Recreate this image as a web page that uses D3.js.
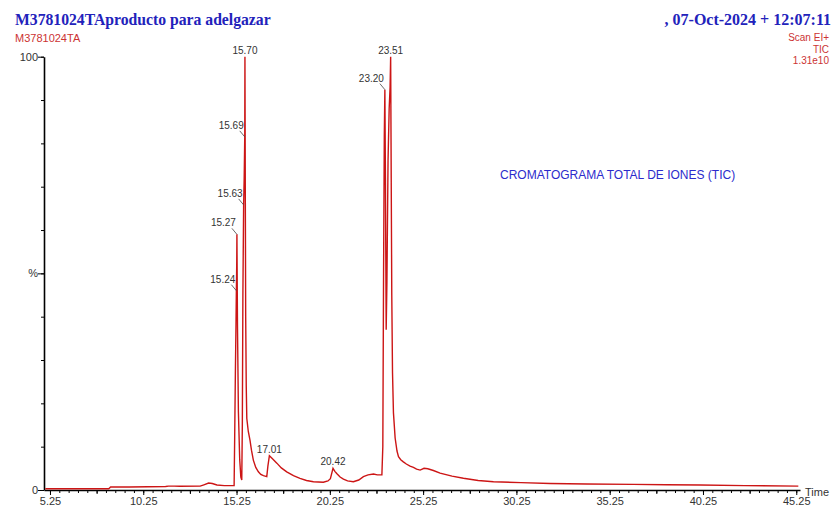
<!DOCTYPE html>
<html>
<meta charset="utf-8">
<script src="https://d3js.org/d3.v7.min.js"></script>
<style>
  body { margin: 0; background: #fff; }
  text { font-family: Arial, "Liberation Sans", sans-serif; }
</style>
<body>
<div id="chart"></div>
<script>

// retention time (min) and relative abundance (%)
var times = [5.00, 6.5, 8.40, 8.50, 9.5, 10.5, 11.45, 11.6, 11.9, 12.2, 13.3, 13.5, 13.75, 13.95, 14.2, 14.6, 15.08,
  15.12, 15.15, 15.19, 15.22, 15.24, 15.26, 15.27, 15.30, 15.35, 15.42, 15.48, 15.53, 15.56, 15.59, 15.63, 15.66,
  15.69, 15.70, 15.72, 15.74, 15.77, 15.80, 15.88, 15.97, 16.05, 16.15, 16.28, 16.42, 16.55, 16.69, 16.87, 16.93,
  17.01, 17.15, 17.41, 17.65, 17.94, 18.3, 18.65, 19.0, 19.37, 19.9, 20.15, 20.28, 20.42, 20.52, 20.62, 20.8, 20.98,
  21.2, 21.51, 21.8, 22.05, 22.3, 22.59, 22.8, 23.04, 23.09, 23.13, 23.17, 23.20, 23.23, 23.27, 23.31, 23.37, 23.43,
  23.48, 23.51, 23.54, 23.57, 23.61, 23.66, 23.75, 23.85, 23.93, 24.05, 24.19, 24.35, 24.55, 24.73, 24.90, 25.09,
  25.3, 25.5, 25.8, 26.16, 26.8, 27.41, 28.2, 29.02, 30.5, 32.06, 34.0, 36.51, 38.3, 40.10, 42.5, 45.36];
var intensity = [0.3, 0.3, 0.3, 0.7, 0.7, 0.75, 0.8, 0.9, 0.9, 0.85, 0.9, 1.2, 1.6, 1.5, 1.15, 1.0, 1.0,
  1.0, 12, 28, 38, 46, 52, 59, 38, 18, 7, 3, 2.3, 15, 45, 65.8, 72,
  81.5, 100, 68, 40, 24, 16.5, 13.5, 11.5, 9.2, 6.9, 5.2, 4.2, 3.6, 3.3, 3.1, 5.5,
  7.9, 7.3, 6.2, 5.1, 4.2, 3.3, 2.7, 2.2, 1.9, 1.8, 2.1, 2.6, 5.0, 4.3, 3.8, 3.0, 2.5,
  2.1, 1.9, 2.3, 3.1, 3.5, 3.7, 3.5, 3.5, 10, 50, 82, 92.4, 72, 37, 48, 76, 88,
  93, 100, 72, 45, 27, 17.8, 12, 9, 7.7, 7.0, 6.5, 6.0, 5.5, 5.2, 4.8, 4.6,
  5.0, 4.9, 4.5, 3.9, 3.2, 2.7, 2.2, 1.9, 1.7, 1.5, 1.4, 1.3, 1.2, 1.15, 1.0, 0.9];

var peakTimes = [15.24, 15.27, 15.63, 15.69, 15.70, 17.01, 20.42, 23.20, 23.51];
var xTickLabels = [5.25, 10.25, 15.25, 20.25, 25.25, 30.25, 35.25, 40.25, 45.25];
var infoLines = ["Scan EI+", "TIC", "1.31e10"];

var width = 834, height = 511;

var svg = d3.select("#chart")
  .append("svg")
    .attr("width", width)
    .attr("height", height);

var x = d3.scaleLinear().domain([4.93, 45.45]).range([44, 800]);
var y = d3.scaleLinear().domain([0, 100]).range([490, 56.7]);

// header
svg.append("text")
  .attr("x", 15).attr("y", 25)
  .style("font-family", "'Times New Roman', 'Liberation Serif', serif")
  .style("font-weight", "bold").style("font-size", "15.7px")
  .attr("fill", "#2222bb")
  .text("M3781024TAproducto para adelgazar");
svg.append("text")
  .attr("x", 831).attr("y", 25).attr("text-anchor", "end")
  .style("font-family", "'Times New Roman', 'Liberation Serif', serif")
  .style("font-weight", "bold").style("font-size", "16px")
  .attr("fill", "#2222bb")
  .text(",  07-Oct-2024 + 12:07:11");
svg.append("text")
  .attr("x", 15).attr("y", 42)
  .style("font-size", "11px").attr("fill", "#cc3333")
  .text("M3781024TA");
infoLines.forEach(function(s, i) {
  svg.append("text")
    .attr("x", 829).attr("y", 41 + i * 11.5).attr("text-anchor", "end")
    .style("font-size", "10px").attr("fill", "#cc3333")
    .text(s);
});

// x axis: labelled ticks, half-way ticks and minor ticks every 0.5 min
var minor = d3.range(5.25, 45.3, 0.5);
svg.append("g")
  .attr("transform", "translate(0,490)")
  .call(d3.axisBottom(x).tickValues(minor).tickSize(3).tickFormat("").tickSizeOuter(0))
  .call(function(g) { g.select(".domain").remove(); });
svg.append("g")
  .attr("transform", "translate(0,490)")
  .call(d3.axisBottom(x).tickValues(d3.range(7.75, 45, 5)).tickSize(4).tickFormat("").tickSizeOuter(0))
  .call(function(g) { g.select(".domain").remove(); });
var xAxis = svg.append("g")
  .attr("transform", "translate(0,490)")
  .call(d3.axisBottom(x).tickValues(xTickLabels).tickSize(5).tickSizeOuter(0).tickFormat(d3.format(".2f")));
xAxis.selectAll("text").style("font-size", "11px").attr("fill", "#333").attr("y", 7);
xAxis.select(".domain").attr("stroke-width", 1.6);

svg.append("text")
  .attr("x", 805).attr("y", 496)
  .style("font-size", "11px").attr("fill", "#333")
  .text("Time");

// y axis
svg.append("g")
  .attr("transform", "translate(44,0)")
  .call(d3.axisLeft(y).tickValues(d3.range(0, 101, 10)).tickSize(3).tickFormat("").tickSizeOuter(0))
  .call(function(g) { g.select(".domain").remove(); });
var yAxis = svg.append("g")
  .attr("transform", "translate(44,0)")
  .call(d3.axisLeft(y).tickValues([0, 50, 100]).tickSize(6).tickSizeOuter(0)
    .tickFormat(function(d) { return d === 50 ? "%" : d; }));
yAxis.selectAll("text").style("font-size", "11px").attr("fill", "#333").attr("x", -6);
yAxis.select(".domain").attr("stroke-width", 1.6);

// trace
var series = times.map(function(t, i) { return [t, intensity[i]]; });
svg.append("path")
  .datum(series)
  .attr("fill", "none")
  .attr("stroke", "#cc1515")
  .attr("stroke-width", 1.4)
  .attr("d", d3.line().x(function(d) { return x(d[0]); }).y(function(d) { return y(d[1]); }));

// peak labels
var leader = { "15.24": 1, "15.27": 1, "15.63": 1, "15.69": 1, "23.20": 1 };
peakTimes.forEach(function(t) {
  var v = intensity[times.indexOf(t)];
  var px = x(t), py = y(v), lab = t.toFixed(2);
  if (leader[lab]) {
    svg.append("line")
      .attr("x1", px - 5).attr("y1", py - 6).attr("x2", px).attr("y2", py)
      .attr("stroke", "#444").attr("stroke-width", 0.8);
    svg.append("text")
      .attr("x", px - 1).attr("y", py - 8).attr("text-anchor", "end")
      .style("font-size", "10px").attr("fill", "#333")
      .text(lab);
  } else {
    svg.append("text")
      .attr("x", px).attr("y", py - 3).attr("text-anchor", "middle")
      .style("font-size", "10px").attr("fill", "#333")
      .text(lab);
  }
});

svg.append("text")
  .attr("x", 500).attr("y", 179)
  .style("font-size", "12px").attr("fill", "#2b2bcc")
  .text("CROMATOGRAMA TOTAL DE IONES (TIC)");

</script>
</body>
</html>
